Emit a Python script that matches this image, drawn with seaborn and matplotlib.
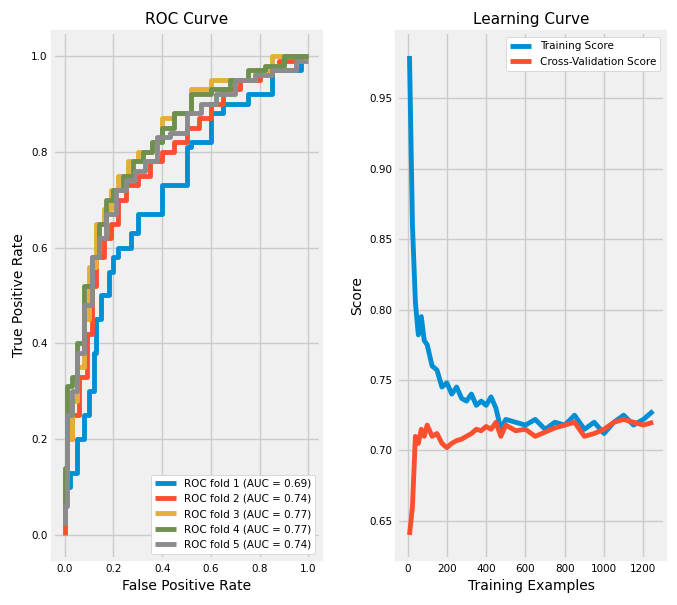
import numpy as np
import matplotlib
matplotlib.use('Agg')
import matplotlib.pyplot as plt
import seaborn as sns

plt.style.use('fivethirtyeight')

# ROC curves (fpr, tpr) per fold
roc_fpr = [
    [0, 0.02, 0.05, 0.08, 0.10, 0.12, 0.13, 0.15, 0.18, 0.20, 0.22, 0.27, 0.30, 0.35, 0.40, 0.45, 0.50, 0.52, 0.60, 0.65, 0.75, 0.80, 0.85, 0.87, 0.97, 1.0],
    [0, 0.01, 0.03, 0.06, 0.09, 0.11, 0.13, 0.16, 0.19, 0.22, 0.25, 0.30, 0.35, 0.40, 0.45, 0.50, 0.55, 0.60, 0.65, 0.72, 0.80, 0.88, 0.95, 1.0],
    [0, 0.01, 0.03, 0.05, 0.08, 0.10, 0.13, 0.16, 0.19, 0.22, 0.26, 0.30, 0.36, 0.40, 0.45, 0.52, 0.60, 0.65, 0.70, 0.78, 0.85, 0.92, 1.0],
    [0, 0.01, 0.03, 0.05, 0.08, 0.11, 0.14, 0.17, 0.20, 0.24, 0.28, 0.32, 0.36, 0.40, 0.45, 0.52, 0.60, 0.68, 0.75, 0.82, 0.90, 1.0],
    [0, 0.01, 0.03, 0.05, 0.08, 0.11, 0.14, 0.17, 0.21, 0.25, 0.29, 0.33, 0.38, 0.43, 0.50, 0.56, 0.62, 0.70, 0.78, 0.85, 0.95, 1.0],
]
roc_tpr = [
    [0.02, 0.10, 0.13, 0.20, 0.25, 0.30, 0.38, 0.45, 0.50, 0.55, 0.58, 0.60, 0.63, 0.67, 0.67, 0.73, 0.73, 0.81, 0.82, 0.88, 0.90, 0.92, 0.92, 0.97, 0.97, 1.0],
    [0.00, 0.12, 0.20, 0.25, 0.33, 0.42, 0.52, 0.58, 0.62, 0.65, 0.70, 0.73, 0.75, 0.78, 0.80, 0.82, 0.85, 0.87, 0.90, 0.93, 0.95, 0.97, 0.99, 1.0],
    [0.02, 0.12, 0.20, 0.28, 0.35, 0.45, 0.56, 0.65, 0.68, 0.72, 0.75, 0.78, 0.80, 0.82, 0.87, 0.88, 0.93, 0.95, 0.95, 0.95, 0.97, 1.0, 1.0],
    [0.02, 0.14, 0.31, 0.33, 0.40, 0.52, 0.58, 0.65, 0.70, 0.72, 0.75, 0.78, 0.80, 0.82, 0.85, 0.88, 0.92, 0.93, 0.95, 0.97, 0.98, 1.0],
    [0.02, 0.06, 0.25, 0.30, 0.38, 0.48, 0.58, 0.62, 0.67, 0.72, 0.74, 0.76, 0.78, 0.83, 0.84, 0.88, 0.90, 0.92, 0.95, 0.96, 0.97, 0.99],
]
roc_auc = [0.69, 0.74, 0.77, 0.77, 0.74]

# Learning curve
train_sizes = [10, 25, 40, 55, 70, 85, 100, 125, 150, 175, 200, 225, 250, 275, 300, 325, 350, 375, 400, 425, 450, 475, 500,
               550, 600, 650, 700, 750, 800, 850, 900, 950, 1000, 1050, 1100, 1150, 1200, 1250]
train_score = [0.98, 0.86, 0.805, 0.782, 0.795, 0.778, 0.775, 0.76, 0.757, 0.745, 0.748, 0.74, 0.745, 0.737, 0.735, 0.74, 0.732, 0.735, 0.732, 0.738, 0.73, 0.715, 0.722,
               0.72, 0.718, 0.722, 0.715, 0.72, 0.718, 0.725, 0.715, 0.72, 0.712, 0.72, 0.725, 0.718, 0.722, 0.728]
cv_score = [0.64, 0.66, 0.71, 0.705, 0.715, 0.71, 0.718, 0.71, 0.712, 0.705, 0.702, 0.705, 0.707, 0.708, 0.71, 0.712, 0.715, 0.714, 0.717, 0.715, 0.72, 0.71, 0.718,
            0.714, 0.715, 0.71, 0.713, 0.716, 0.718, 0.72, 0.71, 0.712, 0.715, 0.72, 0.722, 0.72, 0.718, 0.72]

colors = ['#008fd5', '#fc4f30', '#e5ae38', '#6d904f', '#8b8b8b']

fig, axes = plt.subplots(1, 2, figsize=(6.77, 6.05), dpi=100)
fig.patch.set_facecolor('white')

ax = axes[0]
for i in range(5):
    sns.lineplot(x=roc_fpr[i], y=roc_tpr[i], ax=ax, color=colors[i], lw=3.5, sort=False,
                 drawstyle='steps-pre', label='ROC fold %d (AUC = %.2f)' % (i + 1, roc_auc[i]))
ax.set_title('ROC Curve', fontsize=11)
ax.set_xlabel('False Positive Rate', fontsize=10)
ax.set_ylabel('True Positive Rate', fontsize=10)
ax.tick_params(labelsize=7.5)
ax.legend(loc='lower right', fontsize=7.5, facecolor='white', framealpha=1)

ax = axes[1]
sns.lineplot(x=train_sizes, y=train_score, ax=ax, color=colors[0], lw=3.5, label='Training Score')
sns.lineplot(x=train_sizes, y=cv_score, ax=ax, color=colors[1], lw=3.5, label='Cross-Validation Score')
ax.set_title('Learning Curve', fontsize=11)
ax.set_xlabel('Training Examples', fontsize=10)
ax.set_ylabel('Score', fontsize=10)
ax.tick_params(labelsize=7.5)
ax.legend(loc='upper right', fontsize=7.5, facecolor='white', framealpha=1)

plt.tight_layout(pad=0.6, w_pad=1.5)
plt.savefig('out.png', dpi=100, facecolor='white')
